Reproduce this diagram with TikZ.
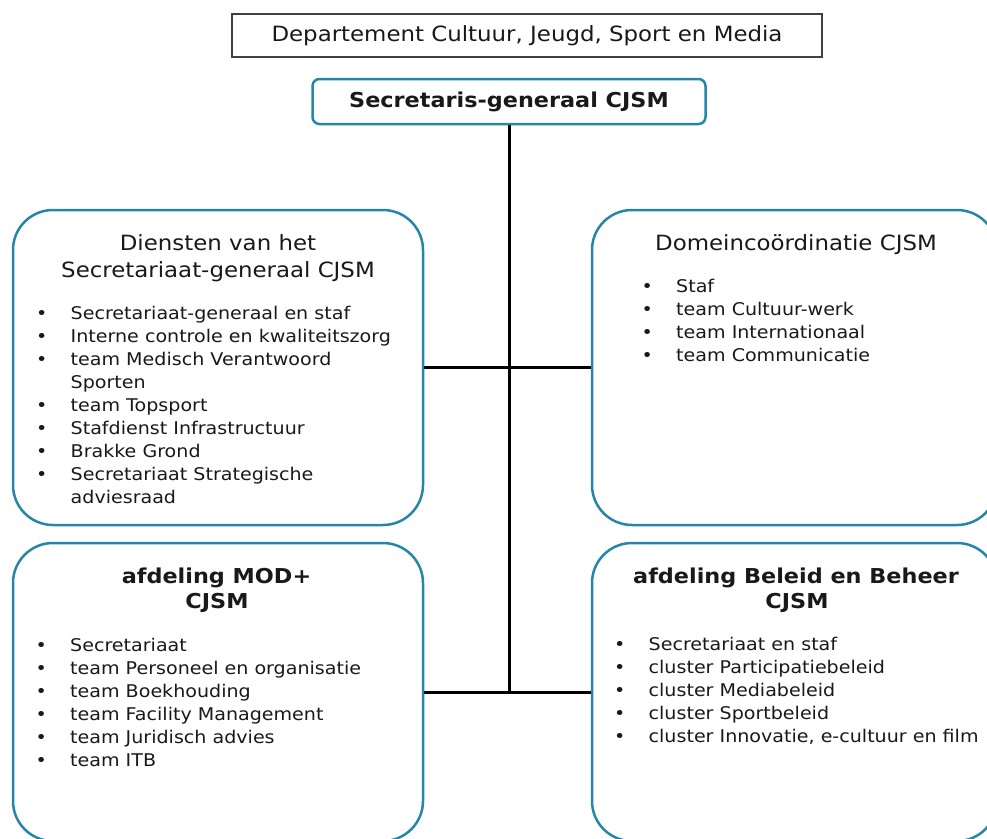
\documentclass[tikz,border=0pt]{standalone}
\usepackage{fontspec}
\setmainfont[FakeStretch=1.09]{DejaVu Sans}
\definecolor{boxblue}{RGB}{38,134,168}
\definecolor{ink}{RGB}{25,25,25}
\newcommand\orglist[1]{\begin{tabular}[t]{@{}l@{\hspace{29pt}}l@{}}#1\end{tabular}}
\newcommand\bl{\makebox[0pt]{\textbullet}}
\begin{document}
\begin{tikzpicture}[x=1pt,y=-1pt,
  orgbox/.style={draw=boxblue, line width=2.5pt, rounded corners=40pt, fill=white, inner sep=0pt},
  secbox/.style={draw=boxblue, line width=2.5pt, rounded corners=7pt, fill=white, inner sep=0pt,
    minimum width=393pt, minimum height=45pt, text=ink, font=\fontsize{20.5}{24}\selectfont\bfseries},
  topbox/.style={draw=black!75, line width=1.3pt, fill=white, inner sep=0pt,
    minimum width=590pt, minimum height=43pt, text=ink, font=\fontsize{21}{25}\selectfont},
  conn/.style={line width=3pt, black},
  ttl/.style={inner sep=0pt, anchor=base, text=ink, font=\fontsize{21}{26}\selectfont},
  bttl/.style={inner sep=0pt, anchor=base, text=ink, font=\fontsize{20.5}{25}\selectfont\bfseries},
  lst/.style={inner sep=0pt, anchor=base west, text=ink, font=\fontsize{17.5}{23}\selectfont}
]
\useasboundingbox (0,0) rectangle (987,838);

% boxes
\node[topbox] (dep) at (527,35.5) {Departement Cultuur, Jeugd, Sport en Media};
\node[secbox] (sg) at (509,101.5) {Secretaris-generaal CJSM};
\node[orgbox, minimum width=410pt, minimum height=315pt] (b1) at (218,367.5) {};
\node[orgbox, minimum width=405pt, minimum height=315pt] (b2) at (794.5,367.5) {};
\node[orgbox, minimum width=410pt, minimum height=298pt] (b3) at (218,692) {};
\node[orgbox, minimum width=405pt, minimum height=298pt] (b4) at (794.5,692) {};

% connectors
\coordinate (j) at (sg.south |- b3.east);
\draw[conn] (sg.south) -- (j);
\draw[conn] (b1.east) -- (b2.west);
\draw[conn] (b3.east) -- (b4.west);

% box 1
\node[ttl] (t1a) at (218,250) {Diensten van het};
\node[ttl] (t1b) at (218,277.5) {Secretariaat-generaal CJSM};
\node[lst] (l1) at (41.5,319.5) {\orglist{%
\bl & Secretariaat-generaal en staf\\
\bl & Interne controle en kwaliteitszorg\\
\bl & team Medisch Verantwoord\\
    & Sporten\\
\bl & team Topsport\\
\bl & Stafdienst Infrastructuur\\
\bl & Brakke Grond\\
\bl & Secretariaat Strategische\\
    & adviesraad}};

% box 2
\node[ttl] (t2) at (796,250) {Domeincoördinatie CJSM};
\node[lst] (l2) at (647,292.5) {\orglist{%
\bl & Staf\\
\bl & team Cultuur-werk\\
\bl & team Internationaal\\
\bl & team Communicatie}};

% box 3
\node[bttl] (t3a) at (216.5,583.5) {afdeling MOD+};
\node[bttl] (t3b) at (217,608.5) {CJSM};
\node[lst] (l3) at (41,651.5) {\orglist{%
\bl & Secretariaat\\
\bl & team Personeel en organisatie\\
\bl & team Boekhouding\\
\bl & team Facility Management\\
\bl & team Juridisch advies\\
\bl & team ITB}};

% box 4
\node[bttl] (t4a) at (796,583) {afdeling Beleid en Beheer};
\node[bttl] (t4b) at (797,608.5) {CJSM};
\node[lst] (l4) at (619.5,650.5) {\orglist{%
\bl & Secretariaat en staf\\
\bl & cluster Participatiebeleid\\
\bl & cluster Mediabeleid\\
\bl & cluster Sportbeleid\\
\bl & cluster Innovatie, e-cultuur en film}};
\end{tikzpicture}
\end{document}
